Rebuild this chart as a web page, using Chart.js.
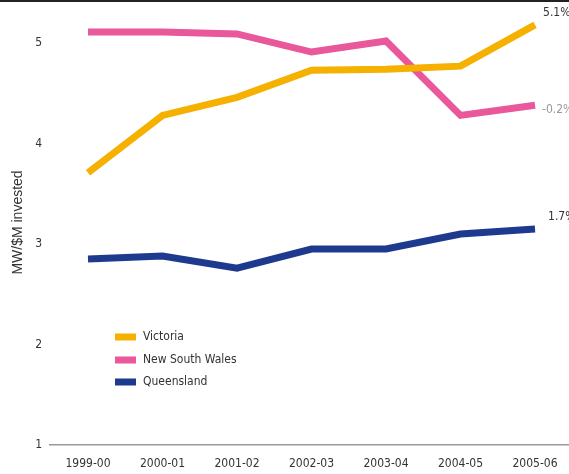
<!DOCTYPE html>
<html>
<head>
<meta charset="utf-8">
<script src="https://cdn.jsdelivr.net/npm/chart.js@4.4.0/dist/chart.umd.min.js"></script>
<style>
  html, body { margin: 0; padding: 0; background: #fff; }
  #wrap { width: 569px; height: 474px; position: relative; }
</style>
</head>
<body>
<div id="wrap"><canvas id="mwChart" width="569" height="474"></canvas></div>
<script>
// Financial years on the x axis
var periods = ['1999-00', '2000-01', '2001-02', '2002-03', '2003-04', '2004-05', '2005-06'];

// MW per $M invested
var victoria = [3.71, 4.28, 4.46, 4.73, 4.74, 4.77, 5.18];
var newSouthWales = [5.11, 5.11, 5.09, 4.91, 5.02, 4.28, 4.38];
var queensland = [2.85, 2.88, 2.76, 2.95, 2.95, 3.10, 3.15];

// Growth labels shown at the end of each line
var endLabels = ['5.1%', '-0.2%', '1.7%'];

var yTicks = [1, 2, 3, 4, 5];

var narrowFont = '"Liberation Sans Narrow", "Arial Narrow", "DejaVu Sans Condensed", sans-serif';

function toPoints(values) {
  return values.map(function (v, i) { return { x: i, y: v }; });
}

// Draws the top rule, the legend box and the end-of-line labels
var decorPlugin = {
  id: 'decor',
  afterDraw: function (chart) {
    var ctx = chart.ctx;
    ctx.save();

    // dark rule across the top
    ctx.fillStyle = '#222';
    ctx.fillRect(0, 0, chart.width, 2);

    // legend
    var rows = [337, 360, 382];
    ctx.font = '12px ' + narrowFont;
    ctx.textBaseline = 'middle';
    ctx.textAlign = 'left';
    chart.data.datasets.forEach(function (ds, i) {
      ctx.fillStyle = ds.borderColor;
      ctx.fillRect(115, rows[i] - 3.5, 21, 7);
      ctx.fillStyle = '#333';
      ctx.fillText(ds.label, 143, rows[i]);
    });

    // end labels
    var offsets = [[8, -12], [7, 5], [13, -12]];
    var colours = ['#333', '#999', '#333'];
    chart.data.datasets.forEach(function (ds, i) {
      var meta = chart.getDatasetMeta(i);
      var last = meta.data[meta.data.length - 1];
      ctx.fillStyle = colours[i];
      ctx.fillText(endLabels[i], last.x + offsets[i][0], last.y + offsets[i][1]);
    });

    ctx.restore();
  }
};

var ctx = document.getElementById('mwChart').getContext('2d');
var mwChart = new Chart(ctx, {
  type: 'line',
  data: {
    datasets: [{
      label: 'Victoria',
      data: toPoints(victoria),
      borderColor: '#F5B000',
      borderWidth: 7
    }, {
      label: 'New South Wales',
      data: toPoints(newSouthWales),
      borderColor: '#E8589B',
      borderWidth: 7
    }, {
      label: 'Queensland',
      data: toPoints(queensland),
      borderColor: '#1E3A8E',
      borderWidth: 7
    }]
  },
  options: {
    responsive: false,
    animation: false,
    layout: { padding: { left: 10, right: 0, top: 0, bottom: 0 } },
    elements: {
      line: { tension: 0, borderCapStyle: 'butt', borderJoinStyle: 'miter' },
      point: { radius: 0 }
    },
    plugins: {
      legend: { display: false },
      tooltip: { enabled: false }
    },
    scales: {
      x: {
        type: 'linear',
        min: -0.51,
        max: 6.456,
        afterBuildTicks: function (scale) {
          scale.ticks = periods.map(function (p, i) { return { value: i }; });
        },
        afterFit: function (scale) {
          scale.height = 29;
          scale.paddingLeft = 0;
          scale.paddingRight = 0;
        },
        grid: { display: false, drawTicks: false },
        border: { display: true, color: '#9a9a9a', width: 1.5 },
        ticks: {
          padding: 12,
          maxRotation: 0,
          autoSkip: false,
          color: '#333',
          font: { family: narrowFont, size: 12 },
          callback: function (value) { return periods[value]; }
        }
      },
      y: {
        min: 1,
        max: 5.428,
        afterBuildTicks: function (scale) {
          scale.ticks = yTicks.map(function (v) { return { value: v }; });
        },
        afterFit: function (scale) {
          scale.width = 40;
          scale.paddingTop = 0;
          scale.paddingBottom = 0;
        },
        grid: { display: false, drawTicks: false },
        border: { display: false },
        ticks: {
          padding: 8,
          color: '#333',
          font: { family: narrowFont, size: 12 }
        },
        title: {
          display: true,
          text: 'MW/$M invested',
          color: '#333',
          padding: { top: 0, bottom: 0 },
          font: { family: '"Liberation Sans", Arial, sans-serif', size: 14 }
        }
      }
    }
  },
  plugins: [decorPlugin]
});
</script>
</body>
</html>
